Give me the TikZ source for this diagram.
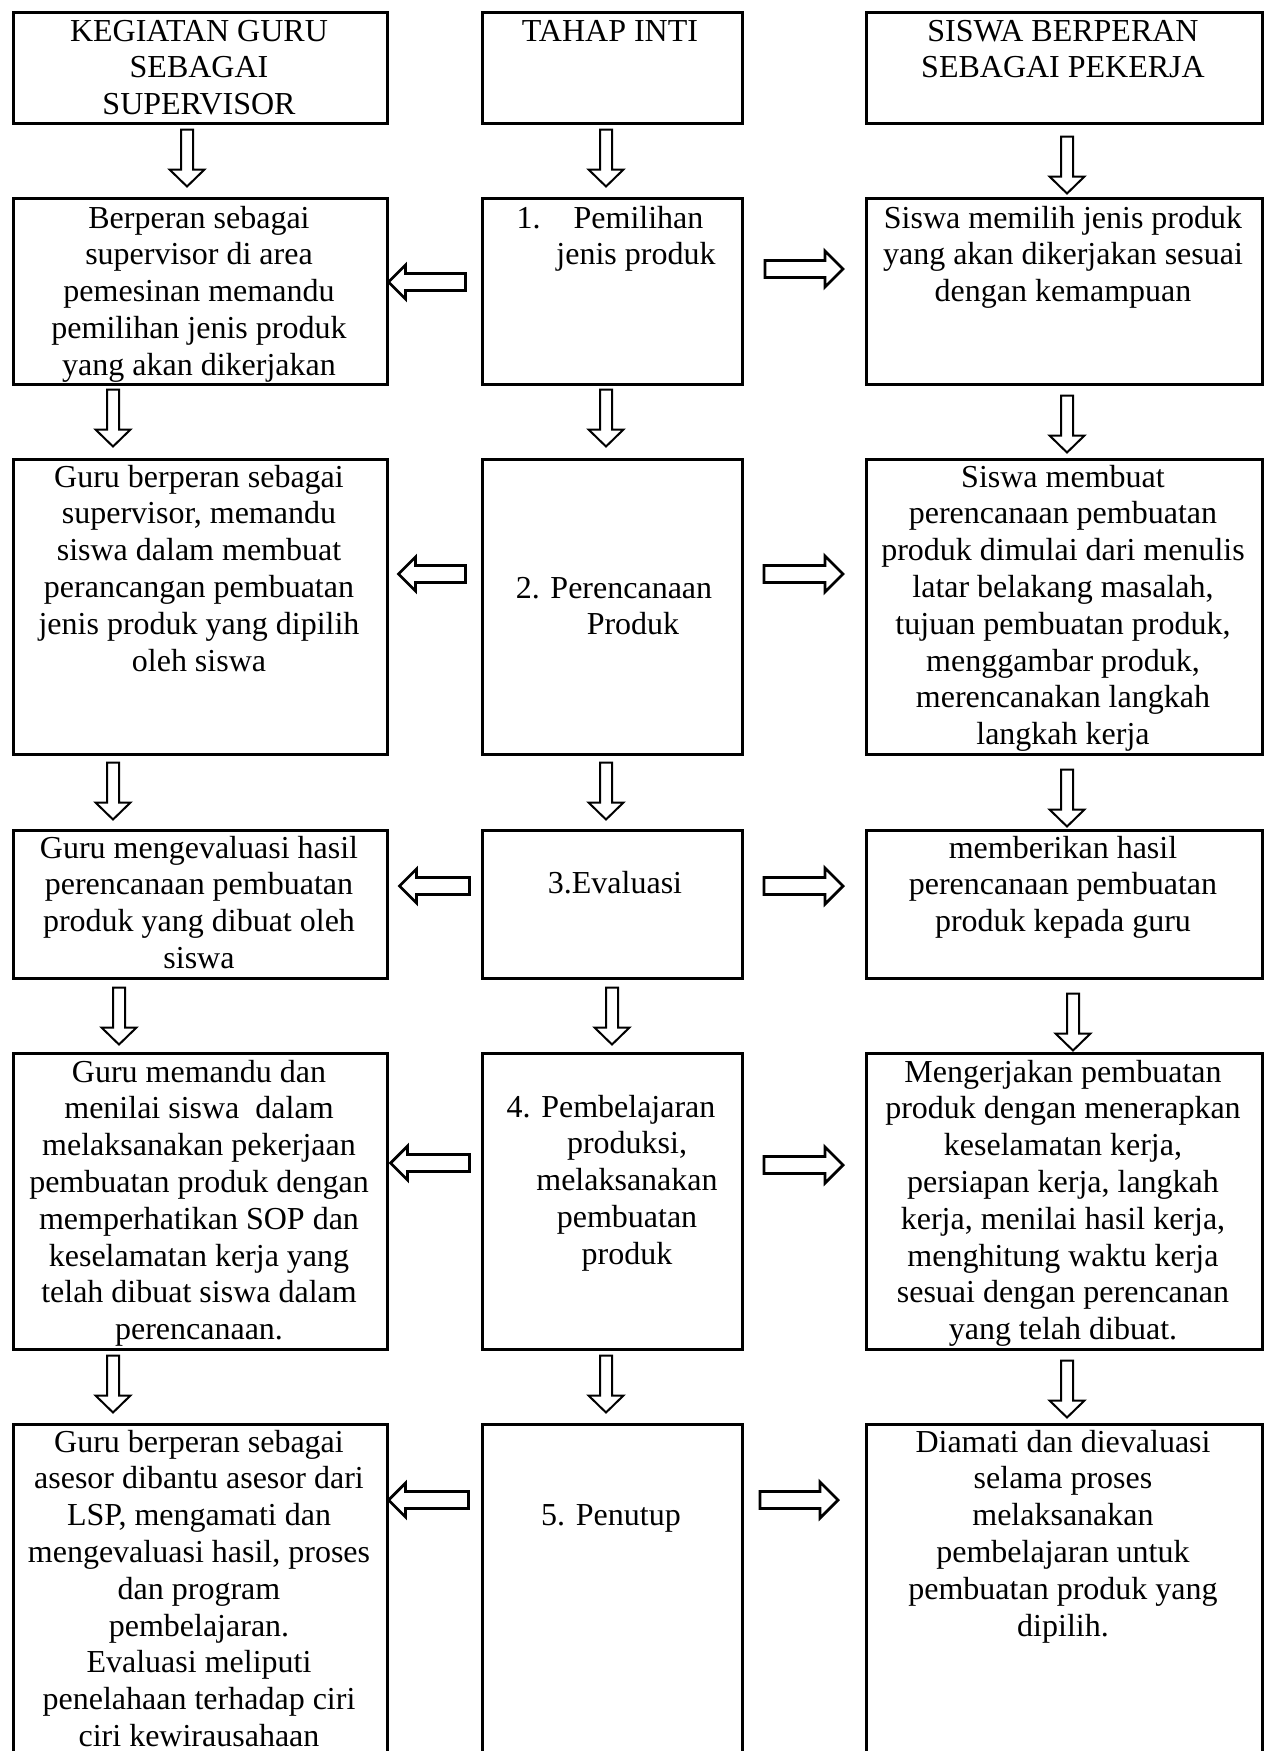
\documentclass[tikz,border=0pt]{standalone}
\usepackage{fontspec}
\setmainfont{Liberation Serif}
\usetikzlibrary{calc}
% centred multi-line cell text whose baseline is the first line
\newcommand{\celltext}[2]{\parbox[t]{#1}{\centering #2}}
\tikzset{
  box/.style={draw, line width=2.5pt, rectangle, inner sep=0pt, anchor=north west},
  txt/.style={inner sep=0pt, anchor=base, font=\fontsize{32}{36.8}\selectfont},
  blk/.style={draw, fill=white, line join=miter},
  pics/darr/.style={code={
    \draw[blk, line width=2pt] (-6,0) -- (6,0) -- (6,40) -- (17.5,40) -- (0,57)
      -- (-17.5,40) -- (-6,40) -- cycle;}},
  pics/larr/.style={code={
    \draw[blk, line width=2.8pt] (0,0) -- (17,-17) -- (17,-8.5) -- (#1,-8.5)
      -- (#1,8.5) -- (17,8.5) -- (17,17) -- cycle;}},
  pics/rarr/.style={code={
    \draw[blk, line width=2.8pt] (0,0) -- (-18,-18) -- (-18,-8.5) -- (-#1,-8.5)
      -- (-#1,8.5) -- (-18,8.5) -- (-18,18) -- cycle;}},
}
\begin{document}
\begin{tikzpicture}[x=1pt, y=-1pt]
\useasboundingbox[fill=white] (0,0) rectangle (1266,1751);

% ---------- boxes ----------
\node[box, minimum width=374pt, minimum height=111pt] (L0) at (12,11) {};
\node[box, minimum width=260pt, minimum height=111pt] (M0) at (481,11) {};
\node[box, minimum width=396pt, minimum height=111pt] (R0) at (865,11) {};

\node[box, minimum width=374pt, minimum height=186pt] (L1) at (12,197) {};
\node[box, minimum width=260pt, minimum height=186pt] (M1) at (481,197) {};
\node[box, minimum width=396pt, minimum height=186pt] (R1) at (865,197) {};

\node[box, minimum width=374pt, minimum height=295pt] (L2) at (12,458) {};
\node[box, minimum width=260pt, minimum height=295pt] (M2) at (481,458) {};
\node[box, minimum width=396pt, minimum height=295pt] (R2) at (865,458) {};

\node[box, minimum width=374pt, minimum height=148pt] (L3) at (12,829) {};
\node[box, minimum width=260pt, minimum height=148pt] (M3) at (481,829) {};
\node[box, minimum width=396pt, minimum height=148pt] (R3) at (865,829) {};

\node[box, minimum width=374pt, minimum height=296pt] (L4) at (12,1052) {};
\node[box, minimum width=260pt, minimum height=296pt] (M4) at (481,1052) {};
\node[box, minimum width=396pt, minimum height=296pt] (R4) at (865,1052) {};

\node[box, minimum width=374pt, minimum height=347pt] (L5) at (12,1423) {};
\node[box, minimum width=260pt, minimum height=347pt] (M5) at (481,1423) {};
\node[box, minimum width=396pt, minimum height=347pt] (R5) at (865,1423) {};

% ---------- texts ----------
\node[txt] (L0t) at (199,41) {\celltext{360pt}{KEGIATAN GURU\\SEBAGAI\\SUPERVISOR}};
\node[txt] (M0t) at (610,41) {\celltext{250pt}{TAHAP INTI}};
\node[txt] (R0t) at (1063,41) {\celltext{385pt}{SISWA BERPERAN\\SEBAGAI PEKERJA}};

\node[txt] (L1t) at (199,228) {\celltext{360pt}{Berperan sebagai\\supervisor di area\\pemesinan memandu\\pemilihan jenis produk\\yang akan dikerjakan}};
\node[txt] (M1t) at (610,228) {\celltext{250pt}{1.\hspace*{33pt}Pemilihan\\\hspace*{52pt}jenis produk}};
\node[txt] (R1t) at (1063,228) {\celltext{385pt}{Siswa memilih jenis produk\\yang akan dikerjakan sesuai\\dengan kemampuan}};

\node[txt] (L2t) at (199,487) {\celltext{360pt}{Guru berperan sebagai\\supervisor, memandu\\siswa dalam membuat\\perancangan pembuatan\\jenis produk yang dipilih\\oleh siswa}};
\node[txt] (M2t) at (614,598) {\celltext{250pt}{2. Perencanaan\\\hspace*{38pt}Produk}};
\node[txt] (R2t) at (1063,487) {\celltext{385pt}{Siswa membuat\\perencanaan pembuatan\\produk dimulai dari menulis\\latar belakang masalah,\\tujuan pembuatan produk,\\menggambar produk,\\merencanakan langkah\\langkah kerja}};

\node[txt] (L3t) at (199,858) {\celltext{360pt}{Guru mengevaluasi hasil\\perencanaan pembuatan\\produk yang dibuat oleh\\siswa}};
\node[txt] (M3t) at (615,893) {\celltext{250pt}{3.Evaluasi}};
\node[txt] (R3t) at (1063,858) {\celltext{385pt}{memberikan hasil\\perencanaan pembuatan\\produk kepada guru}};

\node[txt] (L4t) at (199,1082) {\celltext{360pt}{Guru memandu dan\\menilai siswa~ dalam\\melaksanakan pekerjaan\\pembuatan produk dengan\\memperhatikan SOP dan\\keselamatan kerja yang\\telah dibuat siswa dalam\\perencanaan.}};
\node[txt] (M4t) at (611,1117) {\celltext{250pt}{4. Pembelajaran\\\hspace*{32pt}produksi,\\\hspace*{32pt}melaksanakan\\\hspace*{32pt}pembuatan\\\hspace*{32pt}produk}};
\node[txt] (R4t) at (1063,1082) {\celltext{385pt}{Mengerjakan pembuatan\\produk dengan menerapkan\\keselamatan kerja,\\persiapan kerja, langkah\\kerja, menilai hasil kerja,\\menghitung waktu kerja\\sesuai dengan perencanan\\yang telah dibuat.}};

\node[txt] (L5t) at (199,1452) {\celltext{360pt}{Guru berperan sebagai\\asesor dibantu asesor dari\\LSP, mengamati dan\\mengevaluasi hasil, proses\\dan program\\pembelajaran.\\Evaluasi meliputi\\penelahaan terhadap ciri\\ciri kewirausahaan}};
\node[txt] (M5t) at (611,1525) {\celltext{250pt}{5. Penutup}};
\node[txt] (R5t) at (1063,1452) {\celltext{385pt}{Diamati dan dievaluasi\\selama proses\\melaksanakan\\pembelajaran untuk\\pembuatan produk yang\\dipilih.}};

% ---------- downward block arrows ----------
\path (L0.south west) ++(175,5) pic {darr};
\path (M0.south west) ++(125,5) pic {darr};
\path (R0.south west) ++(202,12) pic {darr};

\path (L1.south west) ++(101,4) pic {darr};
\path (M1.south west) ++(125,4) pic {darr};
\path (R1.south west) ++(202,10) pic {darr};

\path (L2.south west) ++(101,7) pic {darr};
\path (M2.south west) ++(125,7) pic {darr};
\path (R2.south west) ++(202,14) pic {darr};

\path (L3.south west) ++(107,8) pic {darr};
\path (M3.south west) ++(131,8) pic {darr};
\path (R3.south west) ++(208,14) pic {darr};

\path (L4.south west) ++(101,5) pic {darr};
\path (M4.south west) ++(125,5) pic {darr};
\path (R4.south west) ++(202,10) pic {darr};

% ---------- sideways block arrows ----------
\path (L1.north east) ++(0,85) pic {larr=77};
\path (R1.north west) ++(-22,72) pic {rarr=78};

\path (L2.north east) ++(10,116) pic {larr=67};
\path (R2.north west) ++(-22,116) pic {rarr=79};

\path (L3.north east) ++(11,57) pic {larr=70};
\path (R3.north west) ++(-22,57) pic {rarr=79};

\path (L4.north east) ++(2,111) pic {larr=79};
\path (R4.north west) ++(-22,113) pic {rarr=79};

\path (L5.north east) ++(0,77) pic {larr=80};
\path (R5.north west) ++(-27,77) pic {rarr=78};
\end{tikzpicture}
\end{document}
